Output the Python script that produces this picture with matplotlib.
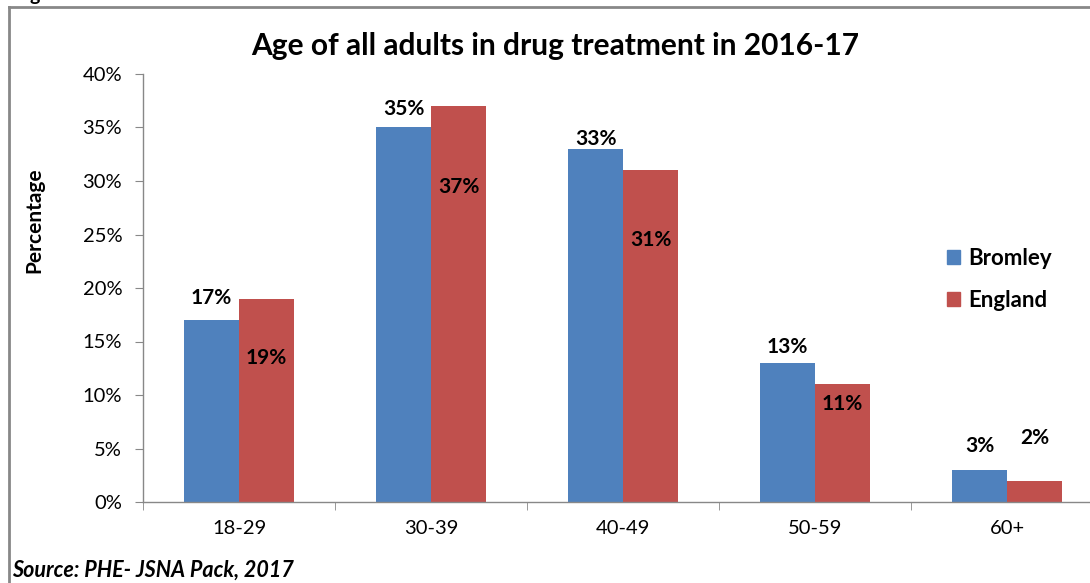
import matplotlib
matplotlib.use("Agg")
import matplotlib.pyplot as plt
from matplotlib.patches import Rectangle
from matplotlib.lines import Line2D
import numpy as np

categories = ["18-29", "30-39", "40-49", "50-59", "60+"]
bromley = [17, 35, 33, 13, 3]
england = [19, 37, 31, 11, 2]
yticks = [0, 5, 10, 15, 20, 25, 30, 35, 40]

# label vertical offsets (in % units) relative to the bar top
bromley_label_off = [2.1, 1.7, 0.9, 1.5, 2.2]
england_label_off = [-5.5, -7.6, -6.5, -1.8, 4.0]

plt.rcParams['font.family'] = ['Lato', 'DejaVu Sans']

W, H = 1090, 583
fig = plt.figure(figsize=(W / 100, H / 100), dpi=100)

def fx(px):
    return px / W

def fy(py):
    return 1 - py / H

# outer frame
fig.add_artist(Line2D([fx(9), fx(9)], [fy(7), fy(600)], color="#888888", lw=2, transform=fig.transFigure))
fig.add_artist(Line2D([fx(9), fx(1100)], [fy(7), fy(7)], color="#888888", lw=2, transform=fig.transFigure))
fig.text(fx(30), fy(1), "g", fontsize=14, fontweight="bold", ha="left", va="baseline")

left, right, top, bottom = 143, 1103, 74, 502
ax = fig.add_axes([fx(left), fy(bottom), fx(right - left), fy(top) - fy(bottom)])

x = np.arange(len(categories))
w = 0.286
blue = "#4F81BD"
red = "#C0504D"
ax.bar(x - w / 2, bromley, w, color=blue, label="Bromley")
ax.bar(x + w / 2, england, w, color=red, label="England")

lab_fs = 15
for xi, v, off in zip(x, bromley, bromley_label_off):
    ax.text(xi - w / 2, v + off, f"{v}%", ha="center", va="center", fontsize=lab_fs, fontweight="bold")
for xi, v, off in zip(x, england, england_label_off):
    ax.text(xi + w / 2, v + off, f"{v}%", ha="center", va="center", fontsize=lab_fs, fontweight="bold")

ax.set_xlim(-0.5, len(categories) - 0.5)
ax.set_ylim(0, 40)
ax.set_yticks(yticks)
ax.set_yticklabels([f"{t}%" for t in yticks], fontsize=14.5)
ax.set_xticks(x)
ax.set_xticklabels(categories, fontsize=14.5)
ax.set_xticks(np.arange(len(categories) + 1) - 0.5, minor=True)
ax.tick_params(axis="x", which="major", length=0, pad=13)
ax.tick_params(axis="x", which="minor", length=6, color="#888888", direction="out")
ax.tick_params(axis="y", length=6, color="#888888", direction="out", pad=9)
for s in ["top", "right"]:
    ax.spines[s].set_visible(False)
for s in ["left", "bottom"]:
    ax.spines[s].set_color("#888888")
    ax.spines[s].set_linewidth(1)

fig.text(fx(34), fy(220), "Percentage", fontsize=15, fontweight="bold", rotation=90,
         ha="center", va="center")
fig.text(fx(555), fy(46), "Age of all adults in drug treatment in 2016-17", fontsize=21.5,
         fontweight="bold", ha="center", va="center")

leg = fig.legend(handles=[Rectangle((0, 0), 1, 1, color=blue), Rectangle((0, 0), 1, 1, color=red)],
                 labels=["Bromley", "England"], loc="upper left",
                 bbox_to_anchor=(fx(927), fy(228)), frameon=False,
                 prop={"weight": "bold", "size": 16}, handlelength=0.6, handleheight=0.6,
                 handletextpad=0.35, labelspacing=0.95)

fig.text(fx(12), fy(570), "Source: PHE- JSNA Pack, 2017", fontsize=15.5, fontweight="bold",
         fontstyle="italic", ha="left", va="center")

fig.savefig("out.png", dpi=100)
